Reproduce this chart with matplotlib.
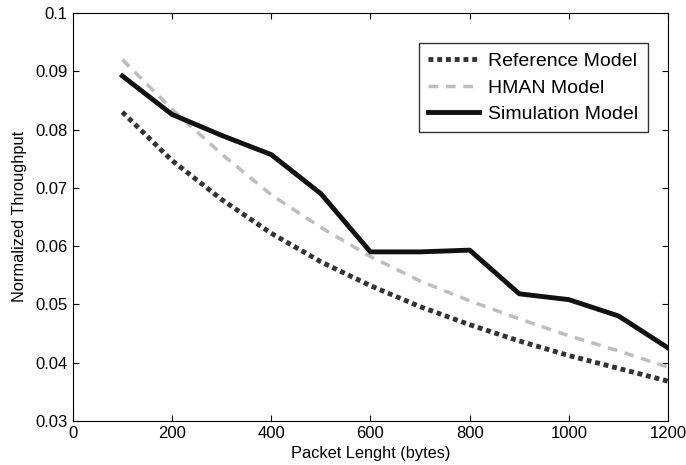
import numpy as np
import matplotlib
matplotlib.use("Agg")
import matplotlib.pyplot as plt

plt.rcParams['font.family'] = ['Liberation Sans', 'DejaVu Sans']

# packet length (bytes)
packet_len = [100, 200, 300, 400, 500, 600, 700, 800, 900, 1000, 1100, 1200]

# normalized throughput
reference_model = [0.0830, 0.0747, 0.0680, 0.0622, 0.0573, 0.0532, 0.0496, 0.0465, 0.0437, 0.0412, 0.0390, 0.0368]
hman_model = [0.0920, 0.0835, 0.0758, 0.0688, 0.0632, 0.0582, 0.0540, 0.0506, 0.0475, 0.0446, 0.0420, 0.0392]
simulation_model = [0.0892, 0.0826, 0.0790, 0.0757, 0.0690, 0.0590, 0.0590, 0.0593, 0.0518, 0.0508, 0.0480, 0.0425]

xticks = [0, 200, 400, 600, 800, 1000, 1200]
yticks = [0.03, 0.04, 0.05, 0.06, 0.07, 0.08, 0.09, 0.1]
ytick_labels = ["0.03", "0.04", "0.05", "0.06", "0.07", "0.08", "0.09", "0.1"]

fig = plt.figure(figsize=(6.86, 4.65), dpi=100)
ax = fig.add_axes([0.106, 0.095, 0.868, 0.877])

ax.plot(packet_len, reference_model, linestyle=(0, (1.0, 0.8)), color='#333333',
        linewidth=3.5, label='Reference Model')
ax.plot(packet_len, hman_model, linestyle=(0, (2.8, 2.2)), color='#bdbdbd',
        linewidth=2.5, label='HMAN Model')
ax.plot(packet_len, simulation_model, linestyle='-', color='#111111',
        linewidth=3.5, label='Simulation Model')

ax.set_xlim(0, 1200)
ax.set_ylim(0.03, 0.1)
ax.set_xticks(xticks)
ax.set_yticks(yticks)
ax.set_yticklabels(ytick_labels)
ax.tick_params(direction='in', top=True, right=True, labelsize=12, length=4)
ax.set_xlabel("Packet Lenght (bytes)", fontsize=11.8)
ax.set_ylabel("Normalized Throughput", fontsize=11.8, labelpad=6)

leg = ax.legend(loc='upper right', bbox_to_anchor=(0.966, 0.926), borderaxespad=0,
                fontsize=14, frameon=True, fancybox=False, edgecolor='black',
                handlelength=2.6, borderpad=0.48, labelspacing=0.45, handletextpad=0.5)
leg.get_frame().set_linewidth(1.0)

fig.savefig("out.png", dpi=100)
